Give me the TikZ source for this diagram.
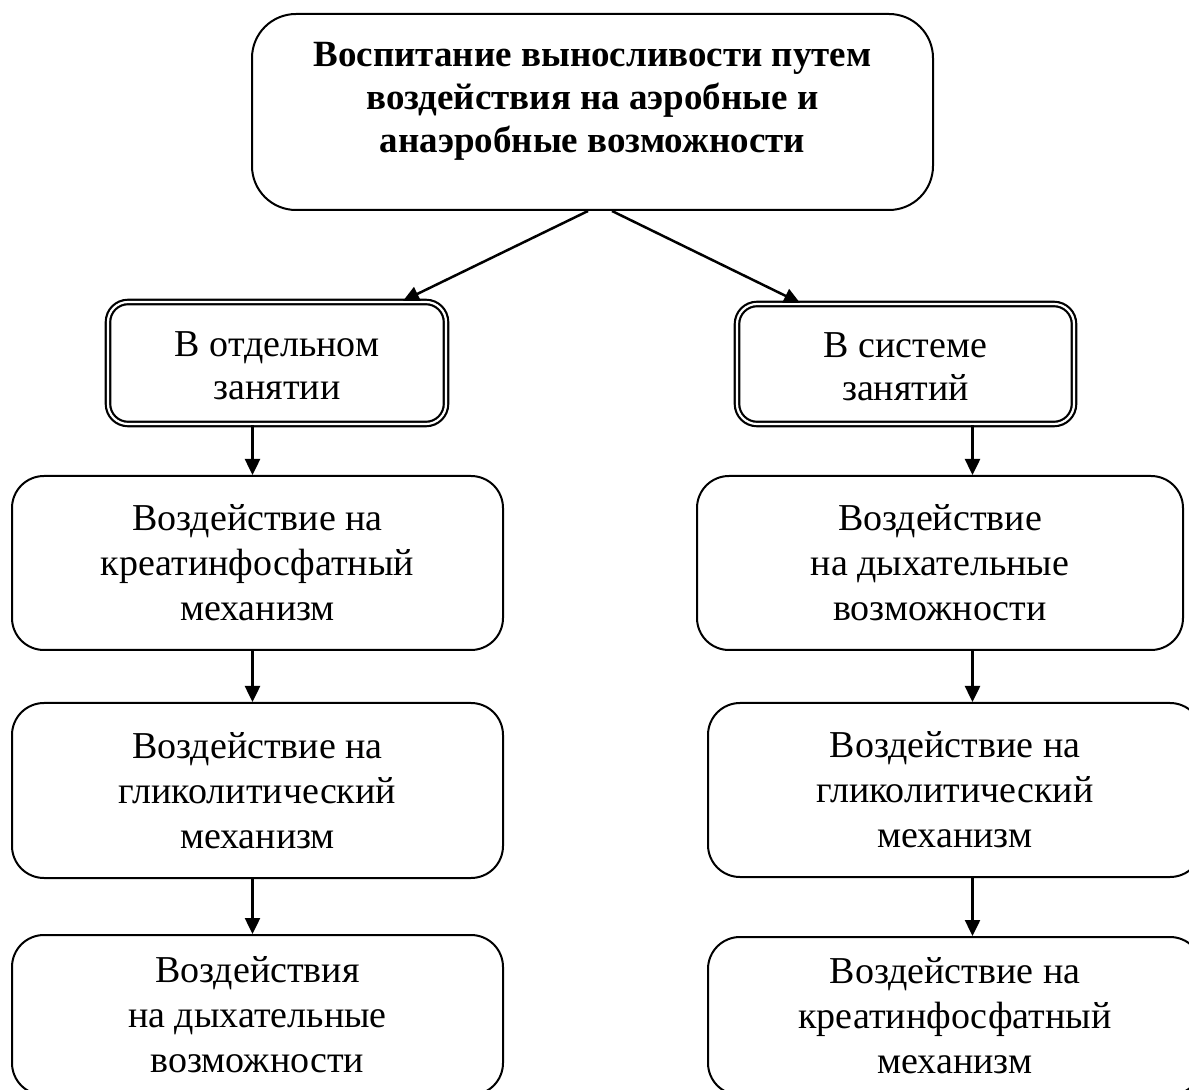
\documentclass[tikz,border=0pt]{standalone}
\usepackage{fontspec}
\setmainfont{Liberation Serif}
\usetikzlibrary{arrows.meta,calc}
\tikzset{
  box/.style={draw, line width=1pt, rounded corners=16pt, align=center, inner sep=0pt,
    font=\fontsize{19}{22.5}\selectfont},
  dblbox/.style={draw, double, double distance=1.1pt, line width=1.1pt, rounded corners=10pt,
    align=center, inner sep=0pt, font=\fontsize{19}{21.5}\selectfont},
  topbox/.style={draw, line width=1pt, rounded corners=22pt, inner sep=0pt},
  toptext/.style={align=center, inner sep=0pt, font=\bfseries\fontsize{18.5}{21.5}\selectfont},
  arr/.style={line width=1.25pt, -{Triangle[length=8pt,width=7.5pt]}}
}
\begin{document}
\begin{tikzpicture}[x=0.5pt,y=-0.5pt]
\path[use as bounding box, clip] (0,0) rectangle (1189,1090);
\node[topbox, minimum width=340.5pt, minimum height=98pt] (top) at (592.5,112) {};
\node[toptext] (toptxt) at (592.5,101) {Воспитание выносливости путем\\воздействия на аэробные и\\анаэробные возможности};
\node[dblbox, minimum width=169pt, minimum height=61pt] (dl) at (277,363) {\strut В отдельном\\занятии};
\node[dblbox, minimum width=168.5pt, minimum height=60pt] (dr) at (905.5,364) {\strut В системе\\занятий};
\node[box, minimum width=245.5pt, minimum height=87pt] (l1) at (257.5,563) {Воздействие на\\креатинфосфатный\\механизм};
\node[box, minimum width=245.5pt, minimum height=87.5pt] (l2) at (257.5,790.5) {Воздействие на\\гликолитический\\механизм};
\node[box, minimum width=245.5pt, minimum height=80pt] (l3) at (257.5,1015) {Воздействия\\на дыхательные\\возможности};
\node[box, minimum width=243pt, minimum height=87pt] (r1) at (940,563) {Воздействие\\на дыхательные\\возможности};
\node[box, minimum width=247pt, minimum height=87pt] (r2) at (955,790) {Воздействие на\\гликолитический\\механизм};
\node[box, minimum width=247pt, minimum height=79pt] (r3) at (955,1016) {Воздействие на\\креатинфосфатный\\механизм};
\coordinate (lx) at (252.5,0);
\coordinate (rx) at (972.5,0);
\coordinate (ta) at (588,0);
\coordinate (tb) at (612,0);
\coordinate (da) at (403,0);
\coordinate (db) at (800,0);
\draw[arr] (top.south -| ta) -- (dl.north -| da);
\draw[arr] (top.south -| tb) -- (dr.north -| db);
\draw[arr] (dl.south -| lx) -- (l1.north -| lx);
\draw[arr] (l1.south -| lx) -- (l2.north -| lx);
\draw[arr] (l2.south -| lx) -- (l3.north -| lx);
\draw[arr] (dr.south -| rx) -- (r1.north -| rx);
\draw[arr] (r1.south -| rx) -- (r2.north -| rx);
\draw[arr] (r2.south -| rx) -- (r3.north -| rx);
\end{tikzpicture}
\end{document}
